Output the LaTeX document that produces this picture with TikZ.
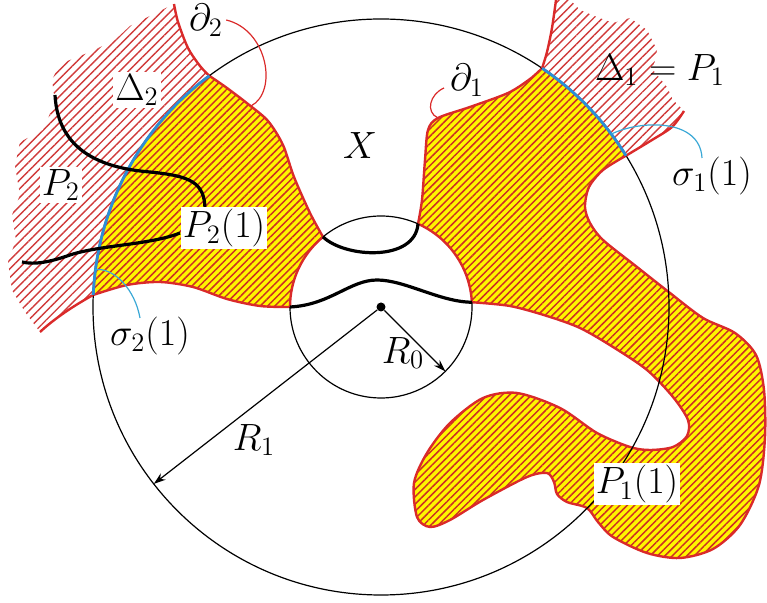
\documentclass[tikz,border=0pt]{standalone}
\usepackage{fix-cm}
\usetikzlibrary{arrows.meta,calc,patterns.meta}
\definecolor{regyellow}{HTML}{FFF500}
\definecolor{regred}{HTML}{DA2A2A}
\definecolor{hatchred}{HTML}{CC3022}
\definecolor{deltared}{HTML}{D03A3A}
\definecolor{arcblue}{HTML}{2B8FD6}
\definecolor{leadblue}{HTML}{3AA8D6}

\begin{document}
\begin{tikzpicture}[
  x=0.5pt, y=-0.5pt,
  every node/.style={font=\fontsize{19}{21}\selectfont, inner sep=1.5pt},
  yelreg/.style={preaction={fill=regyellow}, pattern={Lines[angle=45,distance=2.6pt,line width=0.75pt]}, pattern color=hatchred, draw=regred, line width=1.2pt},
  delreg/.style={pattern={Lines[angle=45,distance=3.1pt,line width=0.7pt]}, pattern color=deltared},
  redline/.style={draw=regred, line width=1.2pt},
  bluearc/.style={draw=arcblue, line width=1.4pt},
  circ/.style={draw=black, line width=0.6pt},
  thickc/.style={draw=black, line width=1.6pt},
  leadred/.style={draw=regred, line width=0.6pt},
  leadbl/.style={draw=leadblue, line width=0.6pt},
  radarr/.style={-{Stealth[length=6pt,width=4pt]}, line width=0.6pt},
  lab/.style={fill=white, inner sep=1pt},
  dot/.style={circle, fill=black, inner sep=0pt, minimum size=4.5pt}
]
\useasboundingbox (0,0) rectangle (767,603);

\node[dot] (o) at (381,307) {};
% points on the two circles
\coordinate (sTR) at ($(o.center)+(-66:91)$);
\coordinate (sTL) at ($(o.center)+(-129.6:91)$);
\coordinate (sL) at ($(o.center)+(-180:91)$);
\coordinate (sR) at ($(o.center)+(-3:91)$);
\coordinate (r0tip) at ($(o.center)+(45:91)$);
\coordinate (bR1) at ($(o.center)+(-56:288)$);
\coordinate (bR2) at ($(o.center)+(-31.7:288)$);
\coordinate (bL1) at ($(o.center)+(-126.6:288)$);
\coordinate (bL2) at ($(o.center)+(-177.6:288)$);
\coordinate (s1foot) at ($(o.center)+(-36.9:288)$);
\coordinate (s2foot) at ($(o.center)+(-172.5:288)$);
\coordinate (r1tip) at ($(o.center)+(142.1:288)$);

% Delta regions
\path[delreg] (174,4) -- plot[smooth] coordinates {(174,4) (178,22) (188,48) (200,66) (bL1)}
  arc[start angle=-126.6, end angle=-177.6, radius=288]
  .. controls (75,305) and (55,318) .. (40,332) -- (25,312) -- (12,290) -- (8,262) -- (16,240)
  -- (12,215) -- (20,195) -- (15,166) -- (20,142) -- (43,130) -- (55,102) -- (52,80)
  -- (60,64) -- (90,52) -- (115,40) -- (130,26) -- (150,16) -- cycle;
\path[delreg] (556,0) -- plot[smooth] coordinates {(556,0) (552,28) (547,52) (bR1)}
  arc[start angle=-56, end angle=-31.7, radius=288]
  -- plot[smooth] coordinates {(bR2) (652,140) (672,127) (684,111)}
  -- (673,100) -- (667,87) -- (653,70) -- (657,50) -- (647,30) -- (630,18) -- (613,23)
  -- (597,17) -- (580,10) -- (570,0) -- cycle;

% yellow pieces
\path[yelreg] (sTL) -- plot[smooth] coordinates {(sTL) (310,213) (294,177) (283,145) (268,121) (248,104) (227,88) (bL1)}
  arc[start angle=-126.6, end angle=-177.6, radius=288]
  -- plot[smooth] coordinates {(bL2) (127,285) (160,282) (193,287) (227,299) (260,306) (sL)}
  arc[start angle=-180, end angle=-129.6, radius=91] -- cycle;
\path[yelreg] (sTR) -- plot[smooth] coordinates {(sTR) (422,200) (425,160) (428,130) (438,118) (470,107) (508,93) (530,79) (bR1)}
  arc[start angle=-56, end angle=-31.7, radius=288]
  -- plot[smooth] coordinates {(bR2) (603,170) (589,187) (585,207) (590,223) (603,240) (637,267)
    (670,293) (703,318) (735,333) (756,355) (764,390) (765,437) (759,485) (740,525) (713,549)
    (680,558) (647,553) (613,537) (598,522) (587,508) (567,502) (557,494) (554,482) (547,473)
    (527,477) (483,500) (450,520) (430,527) (417,517) (414,483) (427,453) (450,423) (483,398)
    (517,393) (560,408) (597,433) (630,447) (650,450) (673,447) (687,436) (688,420) (673,397)
    (647,370) (613,347) (580,328) (547,316) (510,306) (sR)}
  arc[start angle=-3, end angle=-66, radius=91] -- cycle;

% circles
\draw[circ] (o.center) circle[radius=288];
\draw[circ] (sTR) arc[start angle=-66, end angle=-129.6, radius=91];
\draw[circ] (sL) arc[start angle=-180, end angle=-363, radius=91];

\draw[redline] plot[smooth] coordinates {(bL1) (200,66) (188,48) (178,22) (174,4)};
\draw[redline] (bL2) .. controls (75,305) and (55,318) .. (40,332);
\draw[redline] plot[smooth] coordinates {(bR1) (547,52) (552,28) (556,0)};
\draw[redline] plot[smooth] coordinates {(bR2) (652,140) (672,127) (684,111)};
\draw[bluearc] (bL1) arc[start angle=-126.6, end angle=-177.6, radius=288];
\draw[bluearc] (bR1) arc[start angle=-56, end angle=-31.7, radius=288];

\draw[thickc] (sTL) .. controls (345,258) and (415,262) .. (sTR);
\draw[thickc] (sL) .. controls (330,305) and (350,280) .. (377,280) .. controls (405,280) and (440,302) .. (sR);

\coordinate (gA) at (55,95);
\coordinate (gB) at (205,210);
\coordinate (gC) at (180,233);
\coordinate (gD) at (22,262);
\draw[thickc] (gA) .. controls (58,150) and (100,168) .. (150,172) .. controls (190,176) and (205,182) .. (gB);
\draw[thickc] (gC) .. controls (150,245) and (100,245) .. (70,255) .. controls (50,262) and (35,265) .. (gD);

\draw[radarr] (o) -- (r1tip);
\draw[radarr] (o) -- (r0tip);

% labels
\node (d2lab) at (206,20) {$\partial_2$};
\node (d1lab) at (467,80) {$\partial_1$};
\node[lab] (del2) at (137,90) {$\Delta_2$};
\node[lab] (p2) at (61,185) {$P_2$};
\node[lab] (p21) at (224,228) {$P_2(1)$};
\node (s2lab) at (150,336) {$\sigma_2(1)$};
\node (xlab) at (360,146) {$X$};
\node (del1) at (660,70) {$\Delta_1=P_1$};
\node (s1lab) at (712,176) {$\sigma_1(1)$};
\node (r1lab) at (254,440) {$R_1$};
\node (r0lab) at (403,353) {$R_0$};
\node[lab] (p11) at (637,484) {$P_1(1)$};

% leaders
\coordinate (d2foot) at (251,106);
\coordinate (d1top) at (444,88);
\coordinate (d1foot) at (438,118);
\coordinate (s1top) at (702,158);
\coordinate (s2top) at (140,318);
\draw[leadred] (d2lab.east) .. controls (268,30) and (278,92) .. (d2foot);
\draw[leadred] (d1top) .. controls (430,94) and (425,112) .. (d1foot);
\draw[leadbl] (s1foot) .. controls (640,120) and (700,118) .. (s1top);
\draw[leadbl] (s2foot) .. controls (115,268) and (135,290) .. (s2top);
\end{tikzpicture}
\end{document}
